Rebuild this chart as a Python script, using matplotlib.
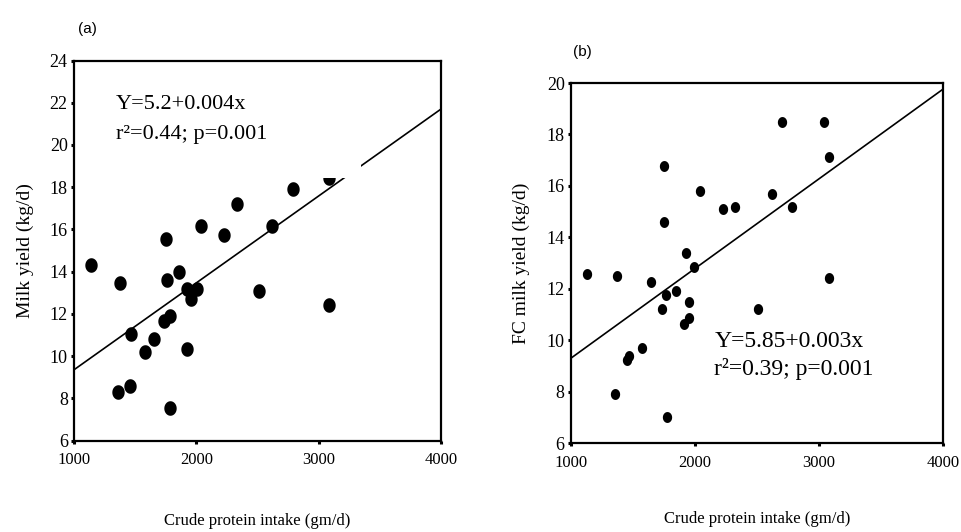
import numpy as np
import matplotlib
matplotlib.use("Agg")
import matplotlib.pyplot as plt
from matplotlib.path import Path
from matplotlib.patches import Rectangle

# panel (a): crude protein intake vs milk yield
cp_a = [1139, 1374, 1755, 1758, 1861, 2041, 2224, 2333, 2788, 3088, 2617, 2510,
        3083, 1921, 2003, 1954, 1736, 1782, 1466, 1652, 1583, 1924, 1362, 1455, 1782]
milk_a = [14.3, 13.45, 15.54, 13.6, 13.98, 16.15, 15.74, 17.2, 17.92, 18.44, 16.15, 13.06,
          12.41, 13.19, 13.19, 12.71, 11.65, 11.92, 11.05, 10.83, 10.19, 10.32, 8.29, 8.59, 7.56]
fit_a_x = [1000, 4000]
fit_a_y = [9.35, 21.7]

# panel (b): crude protein intake vs FC milk yield
cp_b = [1750, 1750, 1925, 1994, 2038, 2226, 2323, 2621, 2785, 2702, 3040, 3081,
        1127, 1371, 1643, 1764, 1844, 1736, 1954, 1954, 1911, 1575, 1465, 1454,
        1357, 1777, 2511, 3081]
fcm_b = [16.79, 14.59, 13.39, 12.83, 15.79, 15.09, 15.19, 15.69, 15.17, 18.5, 18.5, 17.13,
         12.58, 12.51, 12.25, 11.74, 11.91, 11.23, 11.48, 10.88, 10.62, 9.71, 9.39, 9.21,
         7.92, 7.0, 11.23, 12.43]
fit_b_x = [1000, 4000]
fit_b_y = [9.3, 19.76]

xticks = [1000, 2000, 3000, 4000]
yticks_a = [6, 8, 10, 12, 14, 16, 18, 20, 22, 24]
yticks_b = [6, 8, 10, 12, 14, 16, 18, 20]

serif = "Liberation Serif"

# slightly tall elliptical dot, like the original
t = np.linspace(0, 2 * np.pi, 40)
dot = Path(np.column_stack([0.85 * np.cos(t), np.sin(t)]), closed=True)

fig = plt.figure(figsize=(9.61, 5.32), dpi=100)
ax1 = fig.add_axes([74 / 961, 1 - 440.5 / 532, 367 / 961, 380 / 532])
ax2 = fig.add_axes([571 / 961, 1 - 443 / 532, 372 / 961, 360 / 532])


def style(ax, yticks, ylim):
    ax.set_xlim(1000, 4000)
    ax.set_ylim(*ylim)
    ax.set_xticks(xticks)
    ax.set_yticks(yticks)
    for s in ax.spines.values():
        s.set_linewidth(1.6)
    ax.tick_params(direction="out", length=2.5, width=2.2)
    ax.tick_params(axis="x", pad=6, labelsize=12)
    ax.tick_params(axis="y", pad=2, labelsize=13)
    for lab in ax.get_xticklabels() + ax.get_yticklabels():
        lab.set_family(serif)


# (a)
style(ax1, yticks_a, (6, 24))
ax1.scatter(cp_a, milk_a, s=110, marker=dot, color="black", zorder=3, linewidths=0)
ax1.plot(fit_a_x, fit_a_y, color="black", lw=1.2, zorder=2)
ax1.add_patch(Rectangle((3020, 18.43), 327, 1.0, facecolor="white", edgecolor="none", zorder=4))
ax1.text(0.115, 0.883, "Y=5.2+0.004x", transform=ax1.transAxes, family=serif, fontsize=16, va="center")
ax1.text(0.115, 0.804, "r²=0.44; p=0.001", transform=ax1.transAxes, family=serif, fontsize=16, va="center")
ax1.set_ylabel("Milk yield (kg/d)", family=serif, fontsize=14)
ax1.yaxis.set_label_coords(-0.109, 0.5)
ax1.set_xlabel("Crude protein intake (gm/d)", family=serif, fontsize=12)
ax1.xaxis.set_label_coords(0.5, -0.19)
fig.text(87 / 961, 1 - 29 / 532, "(a)", family="Liberation Sans", fontsize=11, ha="center", va="center")

# (b)
style(ax2, yticks_b, (6, 20))
ax2.scatter(cp_b, fcm_b, s=62, marker=dot, color="black", zorder=3, linewidths=0)
ax2.plot(fit_b_x, fit_b_y, color="black", lw=1.2, zorder=2)
ax2.text(0.385, 0.283, "Y=5.85+0.003x", transform=ax2.transAxes, family=serif, fontsize=17, va="center")
ax2.text(0.385, 0.205, "r²=0.39; p=0.001", transform=ax2.transAxes, family=serif, fontsize=17, va="center")
ax2.set_ylabel("FC milk yield (kg/d)", family=serif, fontsize=14)
ax2.yaxis.set_label_coords(-0.110, 0.5)
ax2.set_xlabel("Crude protein intake (gm/d)", family=serif, fontsize=12)
ax2.xaxis.set_label_coords(0.5, -0.19)
fig.text(582 / 961, 1 - 52 / 532, "(b)", family="Liberation Sans", fontsize=11, ha="center", va="center")

fig.savefig("out.png", dpi=100)
